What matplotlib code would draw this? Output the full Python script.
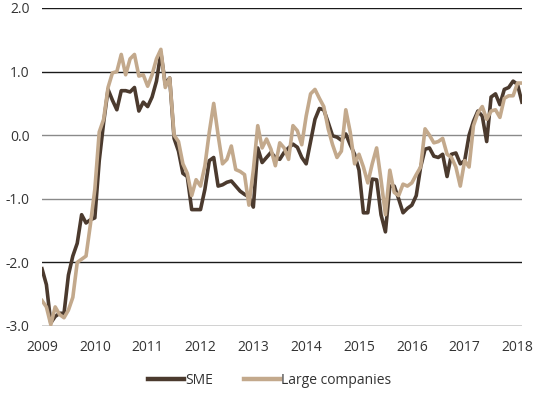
import numpy as np
import matplotlib
matplotlib.use("Agg")
import matplotlib.pyplot as plt

plt.rcParams['font.family'] = ['Open Sans', 'DejaVu Sans']

start_year = 2009
sme = [-2.1, -2.35, -2.95, -2.85, -2.8, -2.8, -2.2, -1.9, -1.7, -1.25,
       -1.38, -1.33, -1.3, -0.4, 0.2, 0.72, 0.55, 0.4, 0.7, 0.7,
       0.68, 0.75, 0.38, 0.52, 0.45, 0.6, 0.85, 1.3, 0.8, 0.9,
       -0.05, -0.25, -0.6, -0.65, -1.17, -1.17, -1.17, -0.85, -0.4, -0.35,
       -0.8, -0.78, -0.74, -0.72, -0.8, -0.88, -0.93, -0.97, -1.13, -0.2,
       -0.43, -0.35, -0.27, -0.35, -0.38, -0.27, -0.2, -0.14, -0.19, -0.35,
       -0.45, -0.1, 0.25, 0.42, 0.4, 0.2, -0.01, -0.03, -0.08, 0.02,
       -0.15, -0.3, -0.55, -1.22, -1.22, -0.69, -0.7, -1.25, -1.52, -0.8,
       -0.8, -1.0, -1.22, -1.15, -1.1, -0.95, -0.5, -0.22, -0.2, -0.33,
       -0.35, -0.3, -0.65, -0.3, -0.28, -0.45, -0.4, 0.0, 0.22, 0.38,
       0.3, -0.1, 0.6, 0.65, 0.48, 0.72, 0.75, 0.85, 0.8, 0.52]
large = [-2.6, -2.7, -2.98, -2.7, -2.82, -2.87, -2.75, -2.55, -2.0, -1.95,
         -1.9, -1.4, -0.85, 0.05, 0.25, 0.75, 0.98, 1.0, 1.27, 0.95,
         1.2, 1.27, 0.93, 0.95, 0.77, 0.95, 1.2, 1.35, 0.75, 0.9,
         0.0, -0.1, -0.45, -0.6, -0.95, -0.7, -0.8, -0.48, 0.05, 0.5,
         0.0, -0.45, -0.38, -0.17, -0.54, -0.57, -0.62, -1.1, -0.55, 0.15,
         -0.2, -0.06, -0.22, -0.48, -0.12, -0.2, -0.38, 0.15, 0.07, -0.15,
         0.3, 0.65, 0.72, 0.58, 0.45, 0.1, -0.15, -0.35, -0.25, 0.4,
         0.05, -0.45, -0.3, -0.5, -0.75, -0.45, -0.2, -0.7, -1.25, -0.55,
         -0.9, -0.95, -0.77, -0.8, -0.75, -0.62, -0.5, 0.1, 0.0, -0.12,
         -0.1, -0.05, -0.3, -0.35, -0.5, -0.8, -0.4, -0.5, 0.15, 0.35,
         0.45, 0.25, 0.38, 0.4, 0.28, 0.58, 0.62, 0.62, 0.82, 0.82]
year_ticks = [2009, 2010, 2011, 2012, 2013, 2014, 2015, 2016, 2017, 2018]
y_ticks = [2.0, 1.0, 0.0, -1.0, -2.0, -3.0]
y_labels = ["2.0", "1.0", "0.0", "-1.0", "-2.0", "-3.0"]

t = start_year + np.arange(len(sme)) / 12.0

fig = plt.figure(figsize=(5.39, 3.93), dpi=100)
ax = fig.add_axes([42/539, 1-326/393, 480/539, 318/393])

for v in y_ticks:
    c = '#8a8a8a' if v in (0.0, -1.0) else '#1a1a1a'
    ax.axhline(v, color=c, lw=1.0, zorder=1)

ax.plot(t, sme, color='#4b3a2e', lw=2.6, label='SME', zorder=3, solid_joinstyle='round')
ax.plot(t, large, color='#c3a98c', lw=2.6, label='Large companies', zorder=4, solid_joinstyle='round')

ax.set_xlim(2009, 2018.085)
ax.set_ylim(-3.0, 2.0)
ax.set_xticks(year_ticks)
ax.set_xticklabels([str(y) for y in year_ticks])
ax.set_yticks(y_ticks)
ax.set_yticklabels(y_labels)
ax.tick_params(length=0, labelsize=10, colors='#333333')
ax.tick_params(axis='y', pad=9)
ax.tick_params(axis='x', pad=10)
for s in ax.spines.values():
    s.set_visible(False)

fig.legend(loc='center', bbox_to_anchor=(0.5, 1-380/393), ncol=2, frameon=False,
           fontsize=10, handlelength=2.6, handletextpad=0.1, columnspacing=2.2,
           labelcolor='#333333')
for line in fig.legends[0].get_lines():
    line.set_linewidth(3.2)

fig.savefig('out.png', dpi=100)
